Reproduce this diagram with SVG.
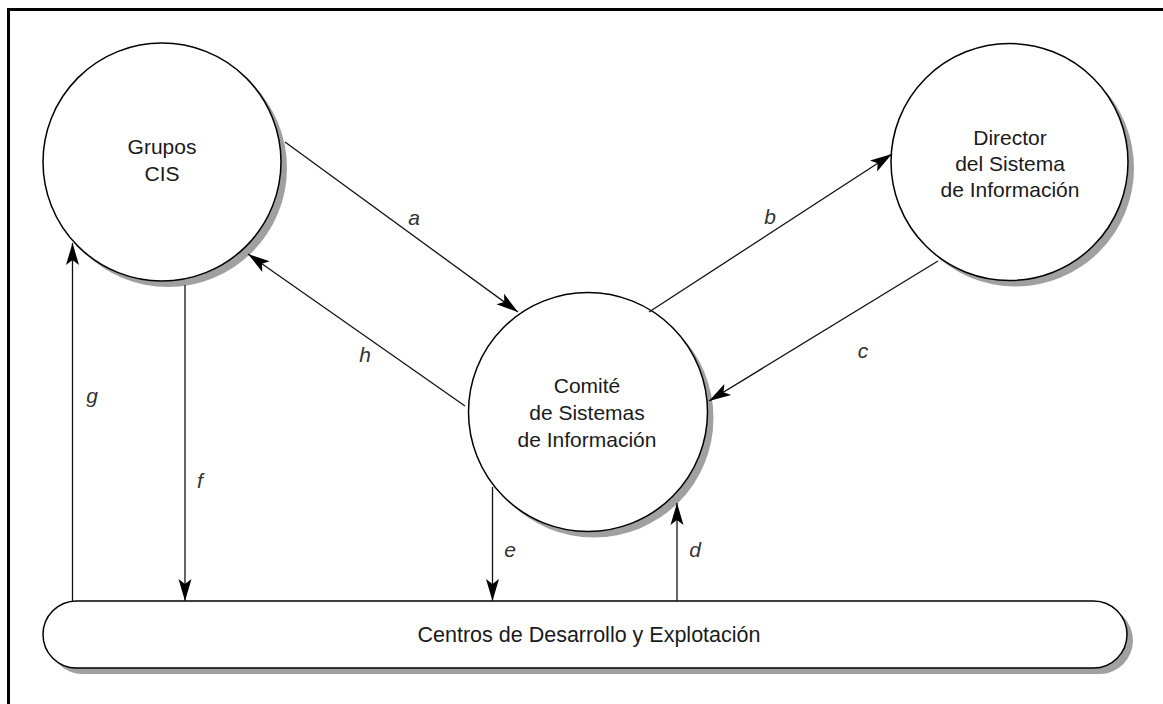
<svg xmlns="http://www.w3.org/2000/svg" width="1163" height="704" viewBox="0 0 1163 704">
<style>
.shadow{fill:#a0a0a0;stroke:none}
.node{fill:#fff;stroke:#000;stroke-width:1.5}
.t{font-family:"Liberation Sans",Arial,sans-serif;font-size:21px;fill:#1a1a1a;text-anchor:middle}
.lbl{font-family:"Liberation Sans",Arial,sans-serif;font-size:21px;font-style:italic;fill:#333;text-anchor:middle}
.c{fill:none;stroke:#111;stroke-width:1.3;marker-end:url(#ah)}
</style>
<defs>
<marker id="ah" markerUnits="userSpaceOnUse" markerWidth="24" markerHeight="16" refX="22" refY="6.5" orient="auto" viewBox="0 0 24 13">
<path d="M0,0 L22,6.5 L0,13 L5,6.5 z" fill="#000"/>
</marker>
</defs>
<rect x="0" y="0" width="1163" height="704" fill="#fff"/>
<rect x="8.5" y="9.5" width="1200" height="760" fill="none" stroke="#000" stroke-width="3"/>
<g id="grupos">
<circle class="shadow" cx="168" cy="168" r="119"/>
<circle class="node" cx="162" cy="162" r="119"/>
<text class="t" x="162" y="154">Grupos</text>
<text class="t" x="162" y="181">CIS</text>
</g>
<g id="director">
<circle class="shadow" cx="1015.5" cy="168" r="118.5"/>
<circle class="node" cx="1009.5" cy="162" r="118.5"/>
<text class="t" x="1010" y="145">Director</text>
<text class="t" x="1010" y="171">del Sistema</text>
<text class="t" x="1010" y="197">de Información</text>
</g>
<g id="comite">
<circle class="shadow" cx="594" cy="418" r="119.5"/>
<circle class="node" cx="588" cy="412" r="119.5"/>
<text class="t" x="587" y="393">Comité</text>
<text class="t" x="587" y="420">de Sistemas</text>
<text class="t" x="587" y="447">de Información</text>
</g>
<g id="centros">
<rect class="shadow" x="49" y="607" width="1084" height="67" rx="33.5"/>
<rect class="node" x="43" y="601" width="1084" height="67" rx="33.5"/>
<text class="t" x="589" y="642" style="font-size:21.5px">Centros de Desarrollo y Explotación</text>
</g>
<g id="connectors">
<line class="c" x1="285" y1="142" x2="518" y2="312"/>
<line class="c" x1="465" y1="406" x2="248" y2="254"/>
<line class="c" x1="649" y1="312" x2="892" y2="154"/>
<line class="c" x1="938" y1="261" x2="709" y2="401"/>
<line class="c" x1="492.5" y1="487" x2="492.5" y2="601"/>
<line class="c" x1="677" y1="601" x2="677" y2="503"/>
<line class="c" x1="72.5" y1="601" x2="72.5" y2="243"/>
<line class="c" x1="185" y1="285" x2="185" y2="601"/>
<text class="lbl" x="414" y="225">a</text>
<text class="lbl" x="770" y="224">b</text>
<text class="lbl" x="863" y="358">c</text>
<text class="lbl" x="365" y="362">h</text>
<text class="lbl" x="92" y="403">g</text>
<text class="lbl" x="200" y="488">f</text>
<text class="lbl" x="510" y="557">e</text>
<text class="lbl" x="695" y="557">d</text>
</g>
</svg>
